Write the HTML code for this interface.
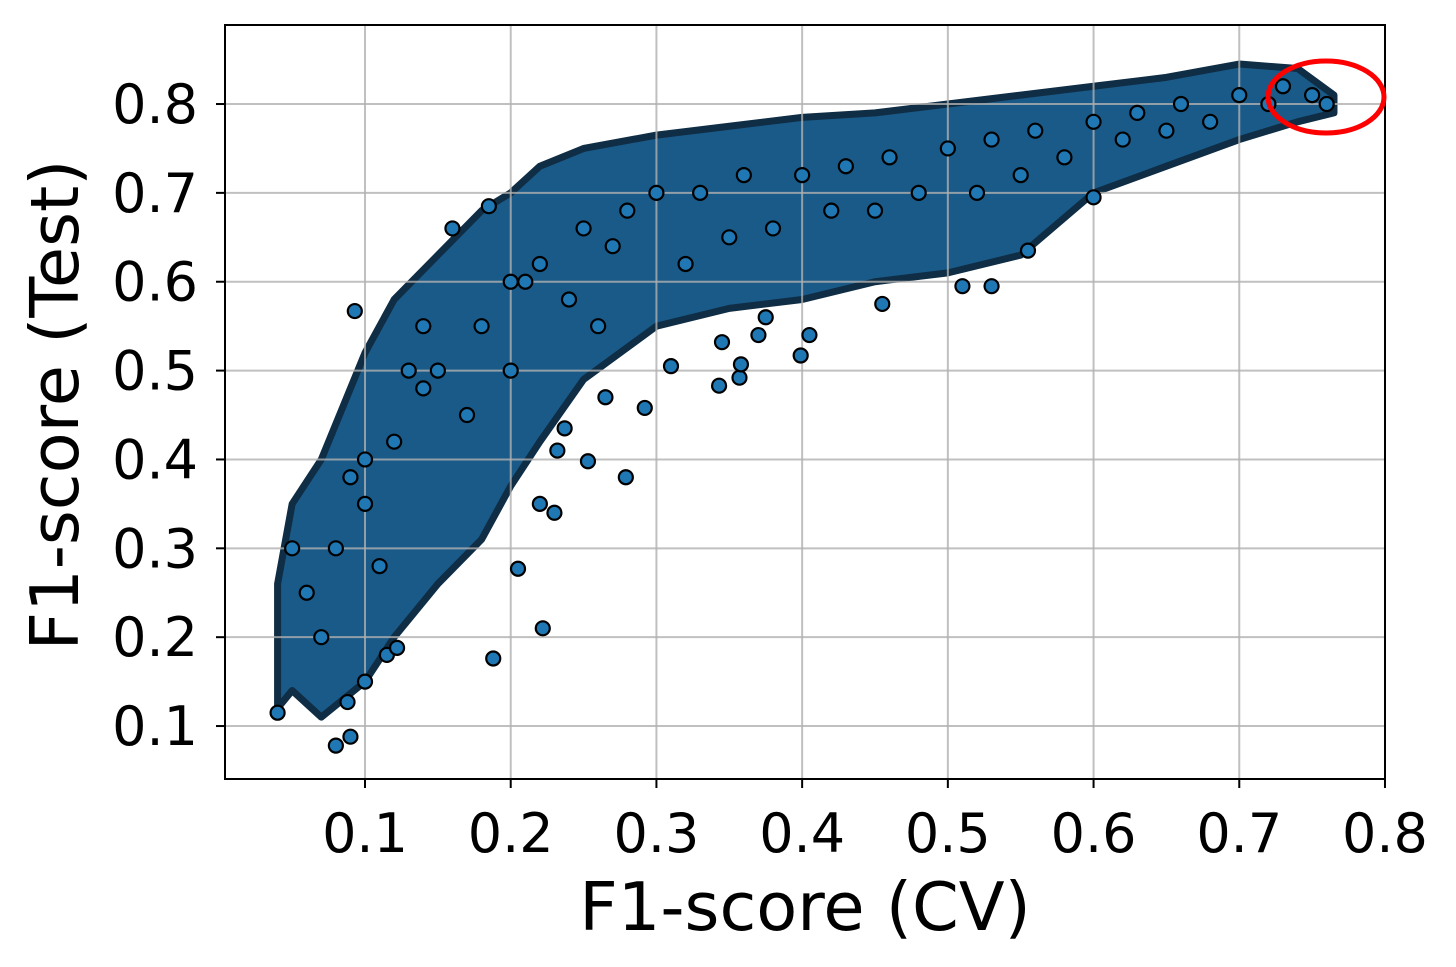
<!DOCTYPE html>
<html><head><meta charset="utf-8"><style>
body{margin:0;background:#fff}
svg{display:block;font-family:"DejaVu Sans","Liberation Sans",sans-serif}
</style></head><body>
<svg id="chart" width="1456" height="967" viewBox="0 0 1456 967">
<rect width="1456" height="967" fill="#fff"/>
<g id="marks"></g>
<g id="grid"></g>
<g id="pts"></g>
<rect x="225" y="25" width="1160" height="754" fill="none" stroke="#000" stroke-width="2"/>
<g id="ticks"></g>
<text x="805" y="930" font-size="67" text-anchor="middle">F1-score (CV)</text>
<text transform="translate(78,405) rotate(-90)" font-size="67" text-anchor="middle">F1-score (Test)</text>
<ellipse cx="1326" cy="97" rx="58" ry="36" fill="none" stroke="#ff0000" stroke-width="5"/>
</svg>
<script>
const xTicks=[0.1,0.2,0.3,0.4,0.5,0.6,0.7,0.8];
const yTicks=[0.1,0.2,0.3,0.4,0.5,0.6,0.7,0.8];
const cvGrid=[0.04,0.05,0.07,0.1,0.12,0.15,0.18,0.2,0.22,0.25,0.3,0.35,0.4,0.45,0.5,0.55,0.6,0.65,0.7,0.74,0.765];
const upperTest=[0.26,0.35,0.40,0.52,0.58,0.63,0.68,0.70,0.73,0.75,0.765,0.775,0.785,0.79,0.80,0.81,0.82,0.83,0.845,0.84,0.81];
const lowerTest=[0.12,0.14,0.11,0.15,0.20,0.26,0.31,0.37,0.42,0.49,0.55,0.57,0.58,0.60,0.61,0.63,0.70,0.73,0.76,0.78,0.79];
const ptCV=[0.093,0.04,0.08,0.09,0.088,0.1,0.188,0.222,0.205,0.279,0.253,0.23,0.22,0.232,0.237,0.292,0.343,0.357,0.358,0.399,0.345,0.31,0.265,0.115,0.122,0.16,0.185,0.51,0.53,0.555,0.6,0.405,0.455,0.375,0.37,
0.06,0.08,0.1,0.12,0.14,0.15,0.18,0.2,0.22,0.25,0.28,0.3,0.33,0.36,0.4,0.43,0.46,0.5,0.53,0.56,0.6,0.63,0.66,0.7,0.73,0.75,
0.07,0.09,0.11,0.13,0.17,0.21,0.24,0.27,0.32,0.38,0.42,0.48,0.52,0.58,0.62,0.68,0.72,0.76,0.05,0.1,0.14,0.2,0.26,0.35,0.45,0.55,0.65];
const ptTest=[0.567,0.115,0.078,0.088,0.127,0.15,0.176,0.21,0.277,0.38,0.398,0.34,0.35,0.41,0.435,0.458,0.483,0.492,0.507,0.517,0.532,0.505,0.47,0.18,0.188,0.66,0.685,0.595,0.595,0.635,0.695,0.54,0.575,0.56,0.54,
0.25,0.3,0.35,0.42,0.48,0.5,0.55,0.6,0.62,0.66,0.68,0.7,0.7,0.72,0.72,0.73,0.74,0.75,0.76,0.77,0.78,0.79,0.8,0.81,0.82,0.81,
0.2,0.38,0.28,0.5,0.45,0.6,0.58,0.64,0.62,0.66,0.68,0.7,0.7,0.74,0.76,0.78,0.8,0.8,0.3,0.4,0.55,0.5,0.55,0.65,0.68,0.72,0.77];
const NS="http://www.w3.org/2000/svg";
const X0=219.3,XS=1457.1,Y0=814.9,YS=888.6;
function sx(v){return X0+v*XS;}
function sy(v){return Y0-v*YS;}
function el(t,a,p){const e=document.createElementNS(NS,t);for(const k in a)e.setAttribute(k,a[k]);p.appendChild(e);return e;}
const grid=document.getElementById('grid'),ticks=document.getElementById('ticks'),marks=document.getElementById('marks'),pts=document.getElementById('pts');
xTicks.forEach(v=>{
 const l=el('line',{x1:sx(v),x2:sx(v),y1:25,y2:779,stroke:'#b0b0b0','stroke-width':2,'stroke-opacity':0.8},grid);
 
 
 el('line',{x1:sx(v),x2:sx(v),y1:779,y2:788,stroke:'#000','stroke-width':2},ticks);
 const t=el('text',{x:sx(v),y:852,'font-size':54,'text-anchor':'middle'},ticks);
 t.textContent=v.toFixed(1);
 
 
});
yTicks.forEach(v=>{
 const l=el('line',{x1:225,x2:1385,y1:sy(v),y2:sy(v),stroke:'#b0b0b0','stroke-width':2,'stroke-opacity':0.8},grid);
 
 
 el('line',{x1:216,x2:225,y1:sy(v),y2:sy(v),stroke:'#000','stroke-width':2},ticks);
 const t=el('text',{x:198,y:sy(v)+19,'font-size':54,'text-anchor':'end'},ticks);
 t.textContent=v.toFixed(1);
 
 
});
let d='';
cvGrid.forEach((c,i)=>{d+=(i?'L':'M')+sx(c)+','+sy(upperTest[i]);});
for(let i=cvGrid.length-1;i>=0;i--)d+='L'+sx(cvGrid[i])+','+sy(lowerTest[i]);
d+='Z';
const area=el('path',{d:d,fill:'#1a5a88',stroke:'#0f2d44','stroke-width':7,'stroke-linejoin':'round'},marks);


ptCV.forEach((c,i)=>{
 const p=el('circle',{cx:sx(c),cy:sy(ptTest[i]),r:7,fill:'#1f77b4',stroke:'#000','stroke-width':2.2},pts);
 
 
});
</script>
</body></html>
